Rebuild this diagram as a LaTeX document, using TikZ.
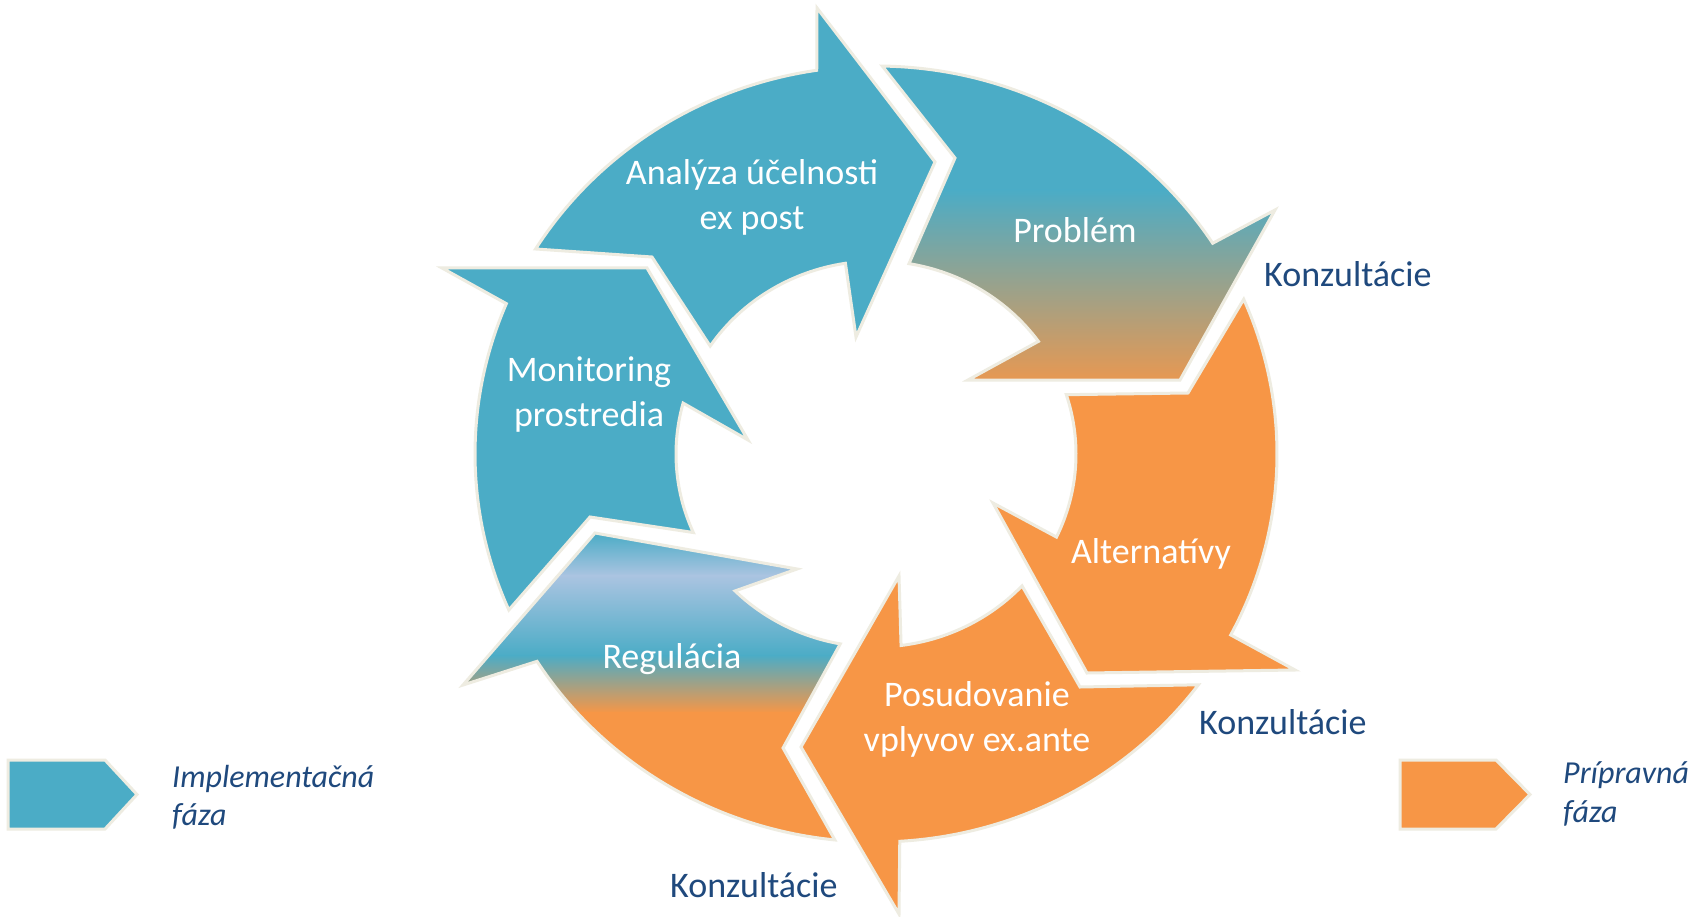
\documentclass[tikz,border=0pt]{standalone}
\usepackage{fontspec}
\setmainfont{Carlito}
\usetikzlibrary{calc}
\definecolor{cblue}{HTML}{4BACC6}
\definecolor{corange}{HTML}{F79646}
\definecolor{ccream}{HTML}{EEECE1}
\definecolor{clav}{HTML}{ABC4E1}
\definecolor{ctext}{HTML}{1F497D}
\newcommand{\arrowpath}[8]{($(O)+(#1:401 and 388)$) arc[start angle=#1, end angle=#2, x radius=401, y radius=388] -- (#3) -- (#4) -- (#5) -- ($(O)+(#6:200 and 193)$) arc[start angle=#6, end angle=#7, x radius=200, y radius=193] -- (#8) -- cycle}
\begin{document}
\begin{tikzpicture}[x=1pt,y=1pt,
  outl/.style={draw=ccream, line width=3pt, line join=miter},
  lbl/.style={text=white, font=\fontsize{36}{45}\selectfont, anchor=base, inner sep=0pt},
  konz/.style={text=ctext, font=\fontsize{36}{45}\selectfont, anchor=base west, inner sep=0pt},
  legtxt/.style={text=ctext, font=\itshape\fontsize{32}{38}\selectfont, anchor=base west, inner sep=0pt}]
\useasboundingbox (0,0) rectangle (1705,-917);
\fill[white] (0,0) rectangle (1705,-917);
\coordinate (O) at (876,-454);
% Analyza
\coordinate (ABo) at (817,-8);   \coordinate (AP) at (935,-162);  \coordinate (ABi) at (856,-337);  \coordinate (AN) at (652,-257);
% Problem
\coordinate (BBo) at (1275,-210); \coordinate (BP) at (1180,-380); \coordinate (BBi) at (968,-380);  \coordinate (BN) at (955,-158);
% Alternativy
\coordinate (CBo) at (1295,-670); \coordinate (CP) at (1087,-673); \coordinate (CBi) at (993,-503);  \coordinate (CN) at (1188,-393);
% Posudovanie
\coordinate (DBo) at (899,-914);  \coordinate (DP) at (801,-747);  \coordinate (DBi) at (899,-576);  \coordinate (DN) at (1080,-687);
% Regulacia
\coordinate (EBo) at (463,-685);  \coordinate (EP) at (595,-533);  \coordinate (EBi) at (797,-569);  \coordinate (EN) at (783,-748);
% Monitoring
\coordinate (FBo) at (442,-268);  \coordinate (FP) at (647,-268);  \coordinate (FBi) at (748,-440);  \coordinate (FN) at (590,-517);

\def\pA{\arrowpath{148.1}{98.5}{ABo}{AP}{ABi}{98.8}{146}{AN}}
\def\pB{\arrowpath{89.1}{32.9}{BBo}{BP}{BBi}{35.7}{80.5}{BN}}
\def\pC{\arrowpath{23.5}{-27.8}{CBo}{CP}{CBi}{-25.5}{17.9}{CN}}
\def\pD{\arrowpath{-36.5}{-86.6}{DBo}{DP}{DBi}{-82.8}{-43.1}{DN}}
\def\pE{\arrowpath{264.1}{212.3}{EBo}{EP}{EBi}{225.2}{259.7}{EN}}
\def\pF{\arrowpath{203.7}{157.2}{FBo}{FP}{FBi}{164.7}{204}{FN}}

% fills
\fill[cblue] \pA;
\begin{scope}
  \clip \pB;
  \fill[cblue] (840,-40) rectangle (1320,-191);
  \shade[top color=cblue, bottom color=corange] (840,-190) rectangle (1320,-400);
\end{scope}
\fill[corange] \pC;
\fill[corange] \pD;
\begin{scope}
  \clip \pE;
  \fill[cblue] (440,-515) rectangle (880,-534);
  \shade[top color=cblue, bottom color=clav] (440,-533) rectangle (880,-576);
  \shade[top color=clav, bottom color=cblue] (440,-575) rectangle (880,-656);
  \shade[top color=cblue, bottom color=corange] (440,-655) rectangle (880,-713);
  \fill[corange] (440,-712) rectangle (880,-860);
\end{scope}
\fill[cblue] \pF;
% outlines
\draw[outl] \pA;
\draw[outl] \pB;
\draw[outl] \pC;
\draw[outl] \pD;
\draw[outl] \pE;
\draw[outl] \pF;

% labels
\node[lbl] (tA1) at (752,-185) {Analýza účelnosti};
\node[lbl] (tA2) at (752,-230) {ex post};
\node[lbl] (tB) at (1075,-243) {Problém};
\node[lbl] (tC) at (1151,-563) {Alternatívy};
\node[lbl] (tD1) at (977,-706) {Posudovanie};
\node[lbl] (tD2) at (977,-751) {vplyvov ex.ante};
\node[lbl] (tE) at (672,-668) {Regulácia};
\node[lbl] (tF1) at (589,-381) {Monitoring};
\node[lbl] (tF2) at (589,-426) {prostredia};

\node[konz] (k1) at (1264,-287) {Konzultácie};
\node[konz] (k2) at (1199,-734) {Konzultácie};
\node[konz] (k3) at (670,-897) {Konzultácie};

% legend
\filldraw[fill=cblue, outl] (8,-760) -- (105,-760) -- (137,-794.5) -- (105,-829) -- (8,-829) -- cycle;
\filldraw[fill=corange, outl] (1400,-760) -- (1496,-760) -- (1530,-794.5) -- (1496,-829) -- (1400,-829) -- cycle;
\node[legtxt] (l1a) at (172,-787) {Implementačná};
\node[legtxt] (l1b) at (172,-825) {fáza};
\node[legtxt] (l2a) at (1563,-783) {Prípravná};
\node[legtxt] (l2b) at (1563,-822) {fáza};
\end{tikzpicture}
\end{document}
